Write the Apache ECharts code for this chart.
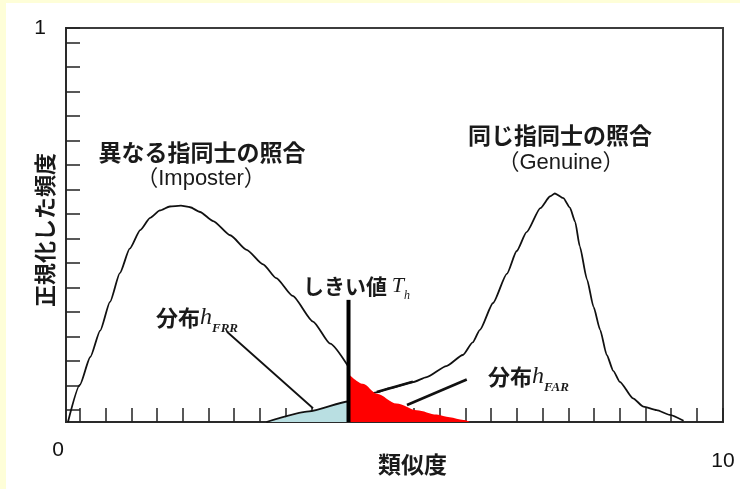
<!DOCTYPE html>
<html>
<head>
<meta charset="utf-8">
<script src="https://cdn.jsdelivr.net/npm/echarts@6/dist/echarts.min.js"></script>
<style>
  html, body { margin: 0; padding: 0; background: #fefed8; }
  #chart { width: 740px; height: 489px; }
</style>
</head>
<body>
<div id="chart"></div>
<script>
// Axis tick labels
const xTickLabels = ['0', '10'];
const yTickLabels = ['1'];

// Imposter (different fingers) score distribution
const imposterX = [0.03, 0.21, 0.37, 0.52, 0.67, 0.82, 0.97, 1.13, 1.28, 1.43, 1.58, 1.75, 1.89, 2.04, 2.24, 2.50, 2.75, 3.00, 3.20, 3.45, 3.76, 4.02, 4.30];
const imposterY = [0.000, 0.094, 0.165, 0.232, 0.305, 0.378, 0.440, 0.487, 0.518, 0.537, 0.547, 0.549, 0.545, 0.533, 0.510, 0.474, 0.437, 0.400, 0.365, 0.320, 0.255, 0.199, 0.140];

// Imposter tail above the threshold (false acceptance, h_FAR)
const farX = [4.30, 4.52, 4.73, 5.03, 5.34, 5.64, 5.84, 6.05, 6.15];
const farY = [0.122, 0.097, 0.072, 0.047, 0.030, 0.019, 0.012, 0.005, 0.000];

// Genuine (same finger) score distribution
const genuineX = [3.05, 3.70, 4.30, 4.73, 4.93, 5.28, 5.49, 5.79, 6.04, 6.19, 6.30, 6.50, 6.71, 6.86, 7.01, 7.22, 7.37, 7.44, 7.57, 7.67, 7.75, 7.82, 7.93, 8.03, 8.13, 8.23, 8.33, 8.43, 8.63, 8.79, 8.99, 9.19, 9.40];
const genuineY = [0.000, 0.027, 0.052, 0.075, 0.086, 0.101, 0.114, 0.142, 0.170, 0.202, 0.234, 0.302, 0.376, 0.434, 0.482, 0.543, 0.573, 0.580, 0.568, 0.544, 0.508, 0.446, 0.362, 0.292, 0.234, 0.170, 0.130, 0.102, 0.060, 0.039, 0.030, 0.018, 0.003];

// Decision threshold T_h
const thresholdX = 4.30;
const thresholdTop = 0.31;

// Leader lines from the h_FRR / h_FAR labels
const leaderFrr = [[2.45, 0.229], [3.76, 0.035]];
const leaderFarA = [[5.19, 0.043], [6.10, 0.108]];
const leaderFarB = [[4.73, 0.076], [5.28, 0.102]];

const zip = (xs, ys) => xs.map((x, i) => [x, ys[i]]);
const imposter = zip(imposterX, imposterY);
const far = zip(farX, farY);
const genuine = zip(genuineX, genuineY);
const frr = genuine.filter(p => p[0] <= thresholdX);

const JP = '"Noto Sans CJK JP", "Noto Sans", sans-serif';
const LATIN = '"Liberation Sans", Arial, "Noto Sans CJK JP", sans-serif';
const SERIF = '"Liberation Serif", "DejaVu Serif", serif';
const INK = '#1a1a1a';

const chart = echarts.init(document.getElementById('chart'), null, { renderer: 'canvas' });

const plain = (name, data, extra) => Object.assign({
  name, type: 'line', data, showSymbol: false, symbol: 'none',
  xAxisIndex: 0, yAxisIndex: 0, animation: false, silent: true
}, extra);

// Hidden axis used only to hold a tick grid
const bare = (gridIndex) => ({
  gridIndex, type: 'value', min: 0, max: 1, show: false
});
const tickStyle = { show: true, inside: true, length: 14, lineStyle: { color: '#222', width: 1.5 } };

chart.setOption({
  animation: false,
  backgroundColor: '#fefed8',
  grid: [
    { left: 66, right: 17, top: 28, bottom: 67, containLabel: false, outerBoundsMode: 'none',
      show: true, borderColor: '#3c3c3c', borderWidth: 2, backgroundColor: '#ffffff' },
    // vertical-axis ticks
    { left: 66, right: 17, top: 28, bottom: 79, containLabel: false, outerBoundsMode: 'none', show: false },
    // horizontal-axis ticks
    { left: 80, right: 17, top: 28, bottom: 67, containLabel: false, outerBoundsMode: 'none', show: false }
  ],
  xAxis: [
    {
      gridIndex: 0, type: 'value', min: 0, max: 10, interval: 10,
      axisLine: { show: true, lineStyle: { color: '#2a2a2a', width: 2 } },
      axisTick: { show: false },
      splitLine: { show: false },
      axisLabel: {
        margin: 18,
        formatter: v => v === 0 ? '{l|' + xTickLabels[0] + '}' : '{r|' + xTickLabels[1] + '}',
        rich: {
          l: { fontSize: 21, fontFamily: LATIN, color: '#111', padding: [0, 16, 0, 0] },
          r: { fontSize: 21, fontFamily: LATIN, color: '#111', padding: [11, 0, 0, 0] }
        }
      },
      name: '類似度', nameLocation: 'middle', nameGap: 31, nameMoveOverlap: false,
      nameTextStyle: { fontFamily: JP, fontSize: 23, fontWeight: 'bold', color: INK, padding: [0, 0, 0, 36] }
    },
    bare(1),
    {
      gridIndex: 2, type: 'value', min: 0, max: 25.02, interval: 1,
      axisLine: { show: false },
      axisTick: tickStyle,
      axisLabel: { show: false }, splitLine: { show: false }
    }
  ],
  yAxis: [
    {
      gridIndex: 0, type: 'value', min: 0, max: 1, interval: 1,
      axisLine: { show: true, lineStyle: { color: '#2a2a2a', width: 2 } },
      axisTick: { show: false },
      splitLine: { show: false },
      axisLabel: {
        margin: 20, fontSize: 21, fontFamily: LATIN, color: '#111',
        formatter: v => v === 1 ? yTickLabels[0] : ''
      },
      name: '正規化した頻度', nameLocation: 'middle', nameRotate: 90, nameGap: 10, nameMoveOverlap: false,
      nameTextStyle: { fontFamily: JP, fontSize: 22, fontWeight: 'bold', color: INK, padding: [0, 10, 0, 0] }
    },
    {
      gridIndex: 1, type: 'value', min: 0, max: 15.59, interval: 1,
      axisLine: { show: false },
      axisTick: tickStyle,
      axisLabel: { show: false }, splitLine: { show: false }
    },
    bare(2)
  ],
  series: [
    plain('h_FRR', frr, {
      lineStyle: { width: 0 },
      areaStyle: { color: '#b9dfe2', opacity: 1 },
      z: 2
    }),
    plain('Genuine', genuine, {
      smooth: 0.2, smoothMonotone: 'x',
      lineStyle: { color: '#111', width: 1.8 },
      z: 3
    }),
    plain('h_FAR', far, {
      smooth: 0.3, smoothMonotone: 'x',
      lineStyle: { width: 0 },
      areaStyle: { color: '#ff0000', opacity: 1 },
      z: 4
    }),
    plain('Imposter', imposter, {
      smooth: 0.2, smoothMonotone: 'x',
      lineStyle: { color: '#111', width: 1.8 },
      z: 5
    }),
    plain('T_h', [[thresholdX, 0], [thresholdX, thresholdTop]], {
      lineStyle: { color: '#000', width: 4 },
      z: 6
    }),
    plain('leaderFrr', leaderFrr, { lineStyle: { color: '#111', width: 1.8 }, z: 6 }),
    plain('leaderFarA', leaderFarA, { lineStyle: { color: '#111', width: 2.6 }, z: 6 }),
    plain('leaderFarB', leaderFarB, { lineStyle: { color: '#111', width: 2.6 }, z: 6 })
  ],
  graphic: [
    { type: 'rect', z: -100, silent: true, shape: { x: 6, y: 3, width: 734, height: 486 }, style: { fill: '#ffffff' } },
    { type: 'text', x: 202, y: 152, silent: true,
      style: { text: '異なる指同士の照合', font: 'bold 23px ' + JP, fill: INK, align: 'center', verticalAlign: 'middle' } },
    { type: 'text', x: 201, y: 179, silent: true,
      style: { text: '（Imposter）', font: '22px ' + LATIN, fill: INK, align: 'center', verticalAlign: 'middle' } },
    { type: 'text', x: 560, y: 135, silent: true,
      style: { text: '同じ指同士の照合', font: 'bold 23px ' + JP, fill: INK, align: 'center', verticalAlign: 'middle' } },
    { type: 'text', x: 561, y: 163, silent: true,
      style: { text: '（Genuine）', font: '22px ' + LATIN, fill: INK, align: 'center', verticalAlign: 'middle' } },
    { type: 'text', x: 303, y: 286, silent: true,
      style: {
        text: '{a|しきい値 }{h|T}{s|h}', align: 'left', verticalAlign: 'middle',
        rich: {
          a: { fontFamily: JP, fontWeight: 'bold', fontSize: 21, fill: INK, color: INK, lineHeight: 32, verticalAlign: 'middle' },
          h: { fontFamily: SERIF, fontStyle: 'italic', fontSize: 22, fill: INK, color: INK, lineHeight: 32, verticalAlign: 'middle' },
          s: { fontFamily: SERIF, fontStyle: 'italic', fontSize: 12, fill: INK, color: INK, lineHeight: 12, verticalAlign: 'bottom' }
        }
      } },
    { type: 'text', x: 156, y: 318, silent: true,
      style: {
        text: '{a|分布}{h|h}{s|FRR}', align: 'left', verticalAlign: 'middle',
        rich: {
          a: { fontFamily: JP, fontWeight: 'bold', fontSize: 22, fill: INK, color: INK, lineHeight: 34, verticalAlign: 'middle' },
          h: { fontFamily: SERIF, fontStyle: 'italic', fontSize: 24, fill: INK, color: INK, lineHeight: 34, verticalAlign: 'middle' },
          s: { fontFamily: SERIF, fontStyle: 'italic', fontWeight: 'bold', fontSize: 13, fill: INK, color: INK, lineHeight: 14, verticalAlign: 'bottom' }
        }
      } },
    { type: 'text', x: 488, y: 377, silent: true,
      style: {
        text: '{a|分布}{h|h}{s|FAR}', align: 'left', verticalAlign: 'middle',
        rich: {
          a: { fontFamily: JP, fontWeight: 'bold', fontSize: 22, fill: INK, color: INK, lineHeight: 34, verticalAlign: 'middle' },
          h: { fontFamily: SERIF, fontStyle: 'italic', fontSize: 24, fill: INK, color: INK, lineHeight: 34, verticalAlign: 'middle' },
          s: { fontFamily: SERIF, fontStyle: 'italic', fontWeight: 'bold', fontSize: 13, fill: INK, color: INK, lineHeight: 14, verticalAlign: 'bottom' }
        }
      } }
  ]
});
</script>
</body>
</html>
